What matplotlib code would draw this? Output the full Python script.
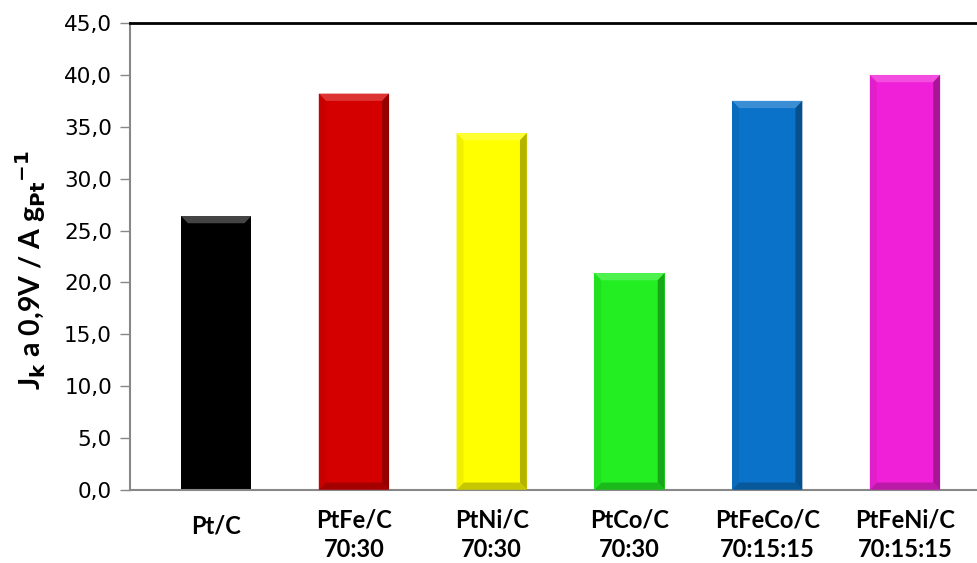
import numpy as np
import matplotlib.pyplot as plt
from matplotlib.patches import Polygon
from matplotlib.ticker import FuncFormatter
from matplotlib.colors import to_rgb

# catalysts and mass activity at 0.9 V
catalysts = ["Pt/C", "PtFe/C", "PtNi/C", "PtCo/C", "PtFeCo/C", "PtFeNi/C"]
ratios = ["", "70:30", "70:30", "70:30", "70:15:15", "70:15:15"]
jk = [26.4, 38.2, 34.4, 20.9, 37.5, 40.0]
colors = ["#000000", "#d40000", "#ffff00", "#22ee22", "#0a72c8", "#f020d8"]

def shade(c, f):
    r = np.array(to_rgb(c))
    if f < 0:
        return tuple(r * (1 + f))
    return tuple(r + (1 - r) * f)

fig = plt.figure(figsize=(9.78, 5.63), dpi=100)
ax = fig.add_axes([0.133, 0.13, 0.867, 0.829])

x = np.arange(len(catalysts))
w = 0.51
bars = ax.bar(x, jk, width=w, color=colors, zorder=2)

# bevel on each bar
bx, by = 0.05, 0.7
for b, c in zip(bars, colors):
    x0, x1 = b.get_x(), b.get_x() + b.get_width()
    h = b.get_height()
    top = [(x0, h), (x1, h), (x1 - bx, h - by), (x0 + bx, h - by)]
    right = [(x1, h), (x1, 0), (x1 - bx, by), (x1 - bx, h - by)]
    bottom = [(x0, 0), (x1, 0), (x1 - bx, by), (x0 + bx, by)]
    left = [(x0, 0), (x0, h), (x0 + bx, h - by), (x0 + bx, by)]
    if c == "#000000":
        ax.add_patch(Polygon(top, closed=True, fc="#444444", ec="none", zorder=3))
    else:
        ax.add_patch(Polygon(top, closed=True, fc=shade(c, 0.2), ec="none", zorder=3))
        ax.add_patch(Polygon(right, closed=True, fc=shade(c, -0.3), ec="none", zorder=3))
        ax.add_patch(Polygon(bottom, closed=True, fc=shade(c, -0.22), ec="none", zorder=3))
        ax.add_patch(Polygon(left, closed=True, fc=shade(c, -0.06), ec="none", zorder=3))

ax.set_ylim(0, 45)
ax.set_xlim(-0.625, 5.53)
ax.set_yticks(np.arange(0, 46, 5))
ax.yaxis.set_major_formatter(FuncFormatter(lambda v, p: f"{v:.1f}".replace(".", ",")))
ax.tick_params(axis="y", labelsize=15.5, length=7, width=1, color="#888888", pad=6)
ax.tick_params(axis="x", length=0)
ax.set_xticks([])

for s in ["left", "bottom"]:
    ax.spines[s].set_color("#888888")
    ax.spines[s].set_linewidth(1.5)
ax.spines["right"].set_visible(False)
ax.spines["top"].set_color("black")
ax.spines["top"].set_linewidth(2)

lab_font = dict(family="Lato", fontweight="bold", fontsize=17)
for i, (n, r) in enumerate(zip(catalysts, ratios)):
    if r:
        ax.text(i, -0.064, n, transform=ax.get_xaxis_transform(), ha="center", va="center", **lab_font)
        ax.text(i, -0.127, r, transform=ax.get_xaxis_transform(), ha="center", va="center", **lab_font)
    else:
        ax.text(i, -0.077, n, transform=ax.get_xaxis_transform(), ha="center", va="center", **lab_font)

fig.text(0.031, 0.52, r"J$_\mathbf{k}$ a 0,9V / A g$_\mathbf{Pt}$$^{\mathbf{-1}}$",
         rotation=90, ha="center", va="center", family="Lato", fontweight="bold", fontsize=20.5)

fig.savefig("out.png", dpi=100)
